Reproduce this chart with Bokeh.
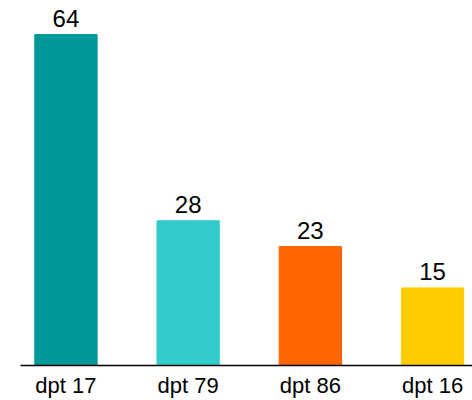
from bokeh.plotting import figure
from bokeh.models import ColumnDataSource, Range1d, LabelSet, FixedTicker
from bokeh.core.properties import value
from bokeh.embed import file_html
from bokeh.resources import INLINE

categories = ["dpt 17", "dpt 79", "dpt 86", "dpt 16"]
values = [64, 28, 23, 15]
colors = ["#009999", "#33CCCC", "#FF6600", "#FFCC00"]

xs = list(range(len(categories)))
source = ColumnDataSource(dict(x=xs, top=values, color=colors,
                               label=[str(v) for v in values]))

p = figure(width=472, height=400, output_backend="svg", toolbar_location=None,
           x_range=Range1d(-0.372, 3.327), y_range=Range1d(0, 70.6),
           min_border_left=20, min_border_right=0, min_border_top=0,
           min_border_bottom=35)

p.vbar(x="x", top="top", bottom=0, width=0.51, color="color", source=source)

labels = LabelSet(x="x", y="top", text="label", source=source,
                  text_align="center", text_baseline="alphabetic", y_offset=8,
                  text_font=value("Liberation Sans"), text_font_size=value("24px"),
                  text_color=value("#000000"))
p.add_layout(labels)

p.yaxis.visible = False
p.xgrid.visible = False
p.ygrid.visible = False
p.outline_line_color = None

p.xaxis.ticker = FixedTicker(ticks=xs)
p.xaxis.major_label_overrides = {i: c for i, c in enumerate(categories)}
p.xaxis.major_tick_line_color = None
p.xaxis.minor_tick_line_color = None
p.xaxis.major_tick_out = 0
p.xaxis.major_tick_in = 0
p.xaxis.axis_line_color = "#000000"
p.xaxis.axis_line_width = 1.5
p.xaxis.major_label_standoff = 7
p.xaxis.major_label_text_font = "Liberation Sans"
p.xaxis.major_label_text_font_size = "22px"
p.xaxis.major_label_text_color = "#000000"

open("out.html", "w").write(file_html(p, INLINE))
